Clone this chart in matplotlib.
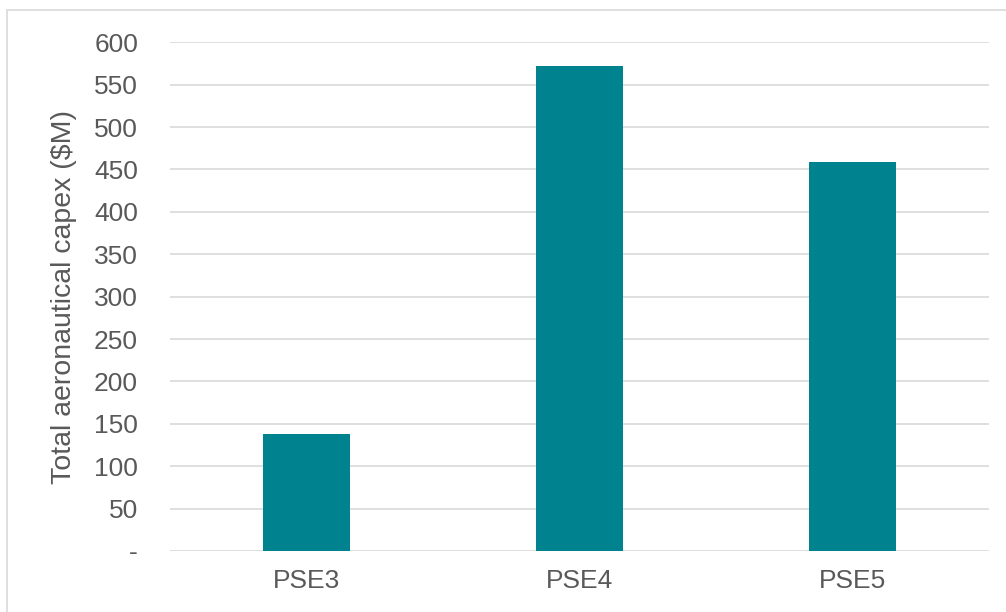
import matplotlib.pyplot as plt
from matplotlib.patches import Rectangle

# Chart data
categories = ["PSE3", "PSE4", "PSE5"]
capex = [138, 572, 459]
yticks = [0, 50, 100, 150, 200, 250, 300, 350, 400, 450, 500, 550, 600]
ytick_labels = ["-"] + [str(v) for v in yticks[1:]]

plt.rcParams['font.family'] = ['Liberation Sans', 'DejaVu Sans']

fig = plt.figure(figsize=(10.06, 6.12), dpi=100)
ax = fig.add_axes([0.169, 0.0997, 0.814, 0.8313])

# Outer chart frame (only left/top visible in the reference)
fig.patches.append(Rectangle((0.007, -0.05), 1.1, 1.0337, transform=fig.transFigure,
                             fill=False, edgecolor='#d9d9d9', linewidth=1.2))

ax.bar(categories, capex, width=0.32, color='#00838f', zorder=3)
ax.set_xlim(-0.5, 2.5)
ax.set_ylim(0, 600)
ax.set_yticks(yticks)
ax.set_yticklabels(ytick_labels)
ax.grid(axis='y', color='#d9d9d9', linewidth=1.2, zorder=0)
for s in ax.spines.values():
    s.set_visible(False)
ax.tick_params(axis='both', length=0, labelsize=19, colors='#595959')
ax.tick_params(axis='x', pad=13)
ax.tick_params(axis='y', pad=23)
ax.set_ylabel("Total aeronautical capex ($M)", fontsize=20.5, color='#595959', labelpad=12)

fig.savefig("out.png", dpi=100)
